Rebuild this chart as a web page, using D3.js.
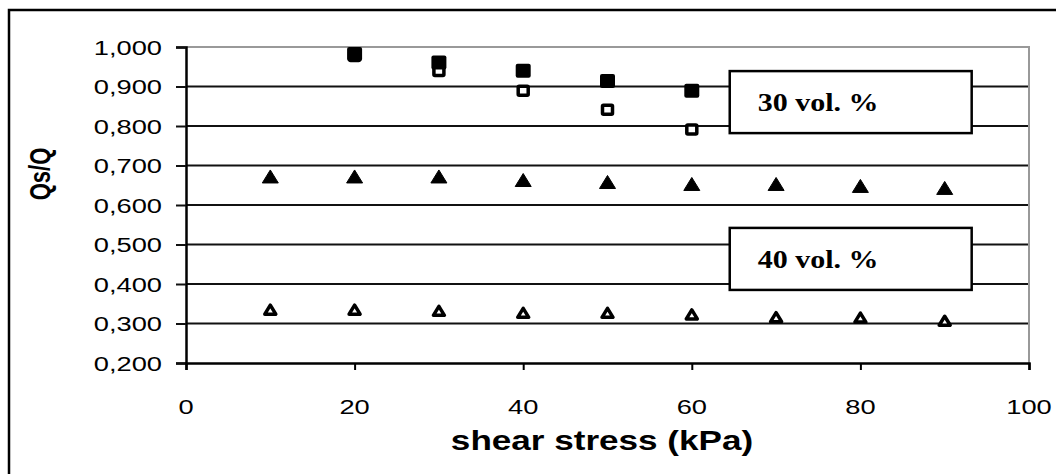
<!DOCTYPE html>
<html>
<head>
<meta charset="utf-8">
<script src="https://cdn.jsdelivr.net/npm/d3@7"></script>
<style>
  body { margin: 0; background: #fff; }
  svg { display: block; }
</style>
</head>
<body>
<div id="chart"></div>
<script>
// values
var xTicks = [0, 20, 40, 60, 80, 100];
var yTicks = [0.2, 0.3, 0.4, 0.5, 0.6, 0.7, 0.8, 0.9, 1.0];

var sqShear = [20, 30, 40, 50, 60];
var sqFilled = [0.982, 0.961, 0.940, 0.914, 0.889];
var sqOpen = [0.977, 0.939, 0.889, 0.841, 0.791];

var triShear = [10, 20, 30, 40, 50, 60, 70, 80, 90];
var triFilled = [0.671, 0.671, 0.671, 0.662, 0.657, 0.652, 0.652, 0.647, 0.642];
var triOpen = [0.335, 0.335, 0.332, 0.327, 0.327, 0.323, 0.316, 0.315, 0.307];

var boxLabels = ["30 vol. %", "40 vol. %"];
var boxX = [[64.5, 93.2], [64.5, 93.2]];
var boxY = [[0.939, 0.782], [0.542, 0.385]];

var width = 1056, height = 474;
var stretch = 1.3;   // the original picture is widened
var sans = "'Liberation Sans', Arial, sans-serif";

var svg = d3.select("#chart").append("svg")
    .attr("width", width)
    .attr("height", height);

svg.append("rect").attr("width", width).attr("height", height).attr("fill", "#fff");

// outer frame (only left and top visible)
svg.append("path")
    .attr("d", "M9," + height + "V10H" + width)
    .attr("fill", "none")
    .attr("stroke", "#000")
    .attr("stroke-width", 2.5);

var x = d3.scaleLinear().domain([0, 100]).range([186, 1029]);
var y = d3.scaleLinear().domain([0.2, 1.0]).range([363, 47]);

// gridlines
svg.append("g").selectAll("line")
    .data(yTicks.slice(1, -1))
  .enter().append("line")
    .attr("x1", x(0)).attr("x2", x(100))
    .attr("y1", function(d) { return y(d); })
    .attr("y2", function(d) { return y(d); })
    .attr("stroke", "#111")
    .attr("stroke-width", 2);

// plot area top + right border (grey)
svg.append("path")
    .attr("d", "M" + x(0) + "," + y(1.0) + "H" + x(100) + "V" + y(0.2))
    .attr("fill", "none")
    .attr("stroke", "#999")
    .attr("stroke-width", 2);

// y axis (line + ticks from d3, labels drawn below)
var yAxis = svg.append("g")
    .attr("transform", "translate(" + x(0) + ",0)")
    .call(d3.axisLeft(y).tickValues(yTicks).tickSize(10).tickFormat(""));
yAxis.select(".domain").attr("stroke", "#000").attr("stroke-width", 2.5);
yAxis.selectAll(".tick line").attr("stroke", "#111").attr("stroke-width", 2);

svg.append("g").selectAll("text")
    .data(yTicks)
  .enter().append("text")
    .attr("transform", function(d) { return "translate(" + (x(0) - 24) + "," + y(d) + ") scale(" + stretch + ",1)"; })
    .attr("text-anchor", "end")
    .attr("dy", "0.36em")
    .style("font-family", sans)
    .style("font-size", "21px")
    .text(function(d) { return d3.format(".3f")(d).replace(".", ","); });

// x axis
var xAxis = svg.append("g")
    .attr("transform", "translate(0," + y(0.2) + ")")
    .call(d3.axisBottom(x).tickValues(xTicks).tickSize(7).tickFormat(""));
xAxis.select(".domain").attr("stroke", "#000").attr("stroke-width", 2.5);
xAxis.selectAll(".tick line").attr("stroke", "#000").attr("stroke-width", 2);

svg.append("g").selectAll("text")
    .data(xTicks)
  .enter().append("text")
    .attr("transform", function(d) { return "translate(" + x(d) + "," + (y(0.2) + 51) + ") scale(" + stretch + ",1)"; })
    .attr("text-anchor", "middle")
    .style("font-family", sans)
    .style("font-size", "21px")
    .text(function(d) { return d; });

// axis titles
svg.append("text")
    .attr("transform", "translate(602,450) scale(" + stretch + ",1)")
    .attr("text-anchor", "middle")
    .style("font-family", sans)
    .style("font-weight", "bold")
    .style("font-size", "27px")
    .text("shear stress (kPa)");

svg.append("text")
    .attr("transform", "translate(40,174) scale(" + stretch + ",1) rotate(-90)")
    .attr("text-anchor", "middle")
    .attr("dy", "0.36em")
    .style("font-family", sans)
    .style("font-weight", "bold")
    .style("font-size", "22px")
    .text("Qs/Q");

// annotation boxes
var boxes = svg.append("g").selectAll("g")
    .data(boxLabels)
  .enter().append("g");
boxes.append("rect")
    .attr("x", function(d, i) { return x(boxX[i][0]); })
    .attr("width", function(d, i) { return x(boxX[i][1]) - x(boxX[i][0]); })
    .attr("y", function(d, i) { return y(boxY[i][0]); })
    .attr("height", function(d, i) { return y(boxY[i][1]) - y(boxY[i][0]); })
    .attr("fill", "#fff")
    .attr("stroke", "#000")
    .attr("stroke-width", 2.5);
boxes.append("text")
    .attr("transform", function(d, i) {
        var cy = (y(boxY[i][0]) + y(boxY[i][1])) / 2;
        return "translate(" + (x(boxX[i][0]) + 28) + "," + (cy + 9) + ") scale(1.2,1)";
    })
    .style("font-family", "'Liberation Serif', 'Times New Roman', serif")
    .style("font-weight", "bold")
    .style("font-size", "25px")
    .text(function(d) { return d; });

// markers
var triPath = "M0,-7L8,6H-8Z";
var triOpenPath = "M0,-4.5L5.5,4.5H-5.5Z";

svg.append("g").selectAll("path")
    .data(triFilled)
  .enter().append("path")
    .attr("d", triPath)
    .attr("transform", function(d, i) { return "translate(" + x(triShear[i]) + "," + y(d) + ")"; })
    .attr("fill", "#000")
    .attr("stroke", "#000")
    .attr("stroke-width", 1)
    .attr("stroke-linejoin", "round");

svg.append("g").selectAll("path")
    .data(triOpen)
  .enter().append("path")
    .attr("d", triOpenPath)
    .attr("transform", function(d, i) { return "translate(" + x(triShear[i]) + "," + y(d) + ")"; })
    .attr("fill", "#fff")
    .attr("stroke", "#000")
    .attr("stroke-width", 3.5)
    .attr("stroke-linejoin", "round");

svg.append("g").selectAll("rect")
    .data(sqOpen)
  .enter().append("rect")
    .attr("x", function(d, i) { return x(sqShear[i]) - 5; })
    .attr("y", function(d) { return y(d) - 4.5; })
    .attr("width", 10).attr("height", 9)
    .attr("rx", 1)
    .attr("fill", "#fff")
    .attr("stroke", "#000")
    .attr("stroke-width", 3.5);

svg.append("g").selectAll("rect")
    .data(sqFilled)
  .enter().append("rect")
    .attr("x", function(d, i) { return x(sqShear[i]) - 7.5; })
    .attr("y", function(d) { return y(d) - 7; })
    .attr("width", 15).attr("height", 14)
    .attr("rx", 2)
    .attr("fill", "#000");
</script>
</body>
</html>
